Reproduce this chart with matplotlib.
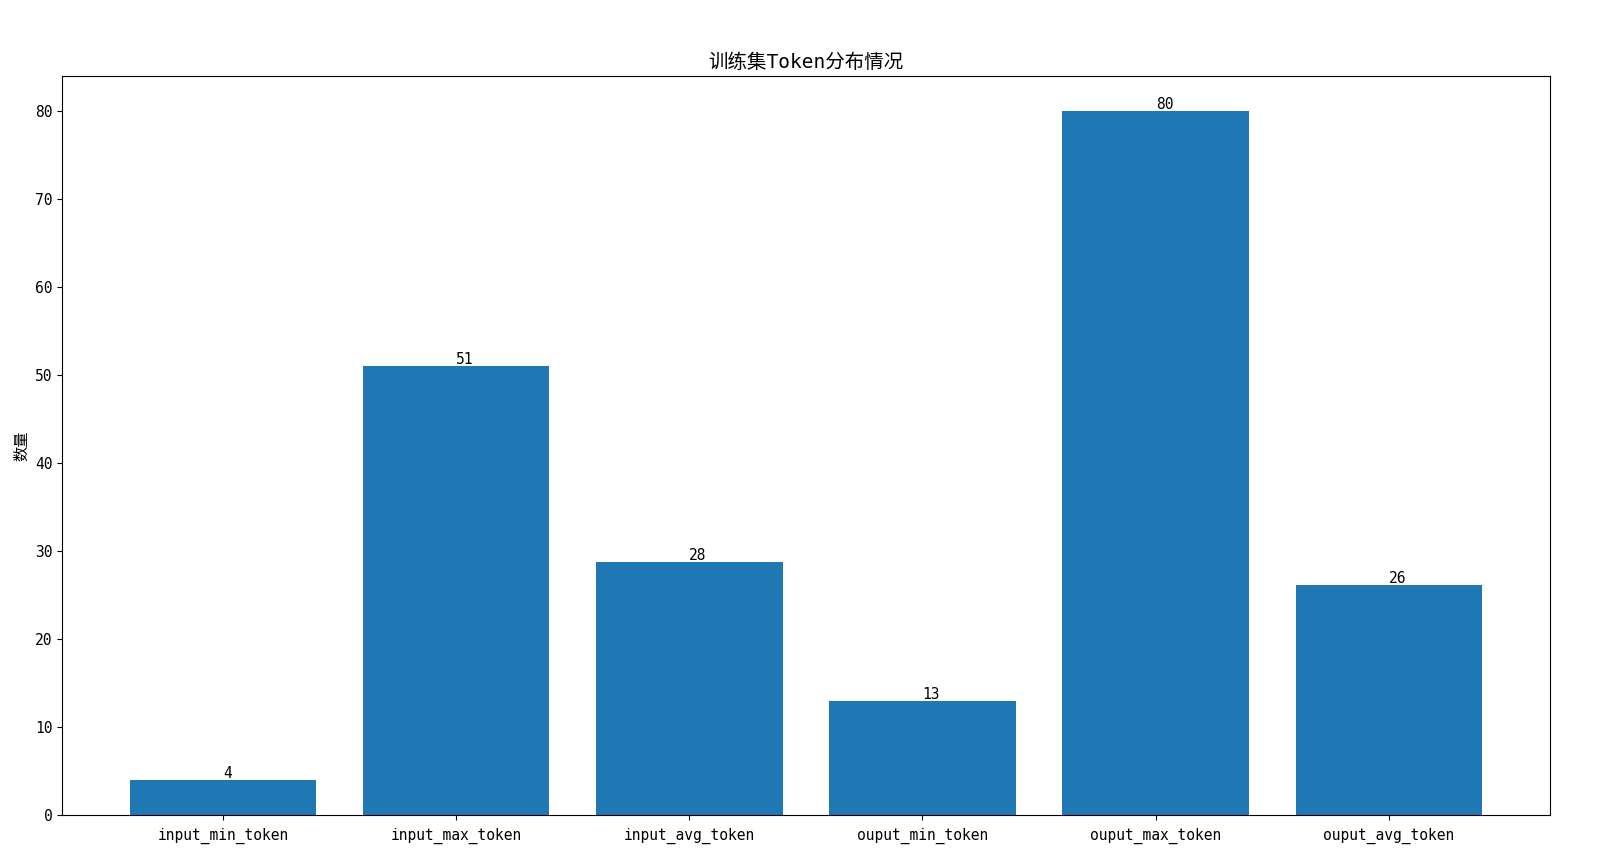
import matplotlib
matplotlib.use("Agg")
import numpy as np
from matplotlib import pyplot as plt

plt.rcParams['font.family'] = ['DejaVu Sans Mono', 'Noto Sans CJK SC']
plt.rcParams['axes.unicode_minus'] = False

# data
names = ['input_min_token', 'input_max_token', 'input_avg_token',
         'ouput_min_token', 'ouput_max_token', 'ouput_avg_token']
values = [4, 51, 28.8, 13, 80, 26.1]

fig = plt.figure(figsize=(16.06, 8.57), dpi=100)
ax = fig.add_subplot(111)
fig.subplots_adjust(left=0.0386, right=0.965, top=0.9113, bottom=0.049)

x = np.arange(len(names))
bars = ax.bar(x, values, color='#1f77b4')
for b, v in zip(bars, values):
    ax.annotate('%d' % int(v), (b.get_x() + b.get_width() / 2, b.get_height()),
                xytext=(0, 1.5), textcoords='offset points',
                ha='left', va='baseline', fontsize=10.5)

ax.set_xticks(x)
ax.set_xticklabels(names, fontsize=10.5)
ax.tick_params(axis='x', pad=5.5)
ax.tick_params(axis='y', labelsize=10.5)
ax.set_ylabel('数量', fontsize=11)
ax.set_title('训练集Token分布情况', fontsize=14)

fig.savefig('out.png', dpi=100)
